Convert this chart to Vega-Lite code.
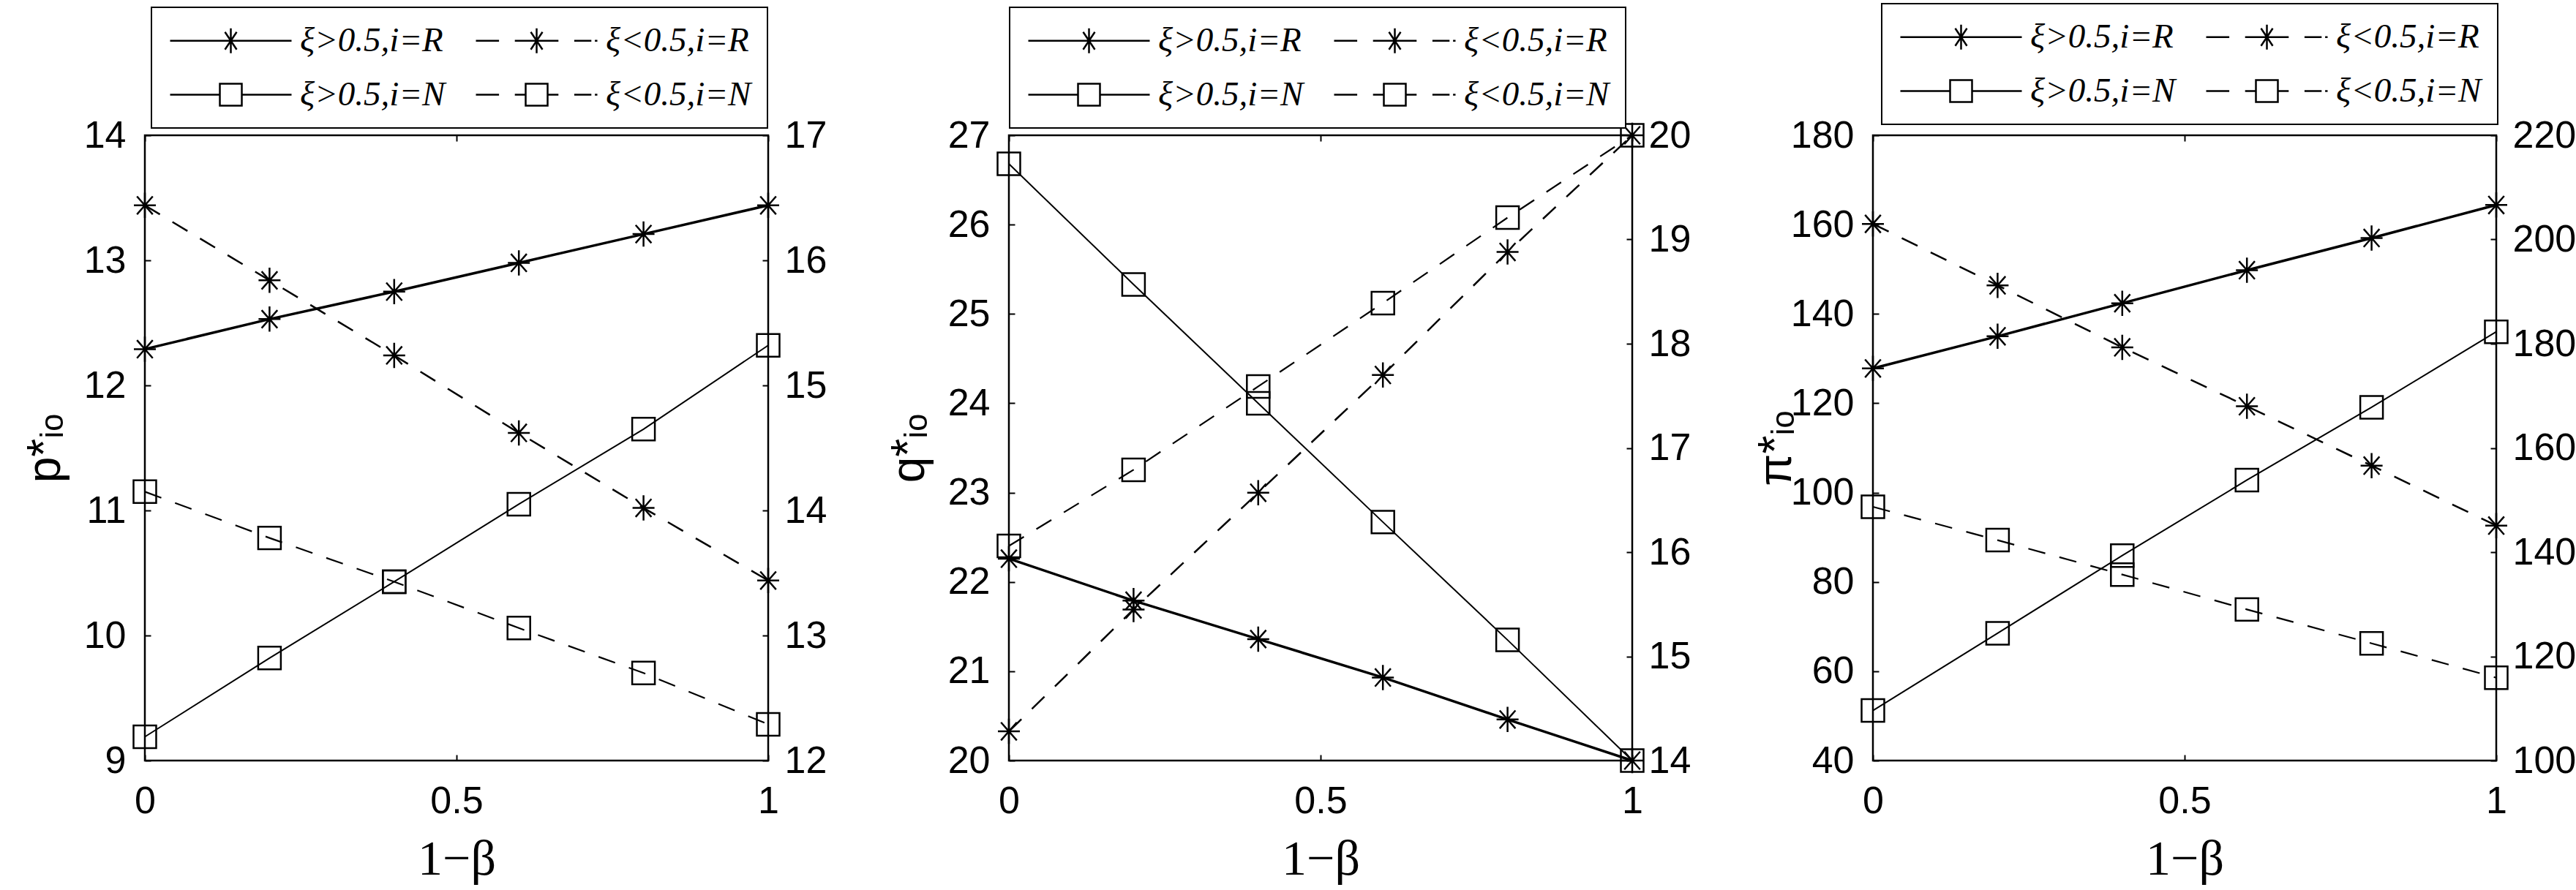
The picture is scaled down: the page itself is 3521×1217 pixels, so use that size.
{
  "$schema": "https://vega.github.io/schema/vega-lite/v6.json",
  "background": "white",
  "padding": {"left": 28, "top": 2, "right": 0, "bottom": 0},
  "datasets": {
    "d": [
      {"p": 1, "s": "ξ>0.5,i=R", "x": 0, "y": 12.29}, {"p": 1, "s": "ξ>0.5,i=R", "x": 0.2, "y": 12.53}, {"p": 1, "s": "ξ>0.5,i=R", "x": 0.4, "y": 12.75}, {"p": 1, "s": "ξ>0.5,i=R", "x": 0.6, "y": 12.98}, {"p": 1, "s": "ξ>0.5,i=R", "x": 0.8, "y": 13.21}, {"p": 1, "s": "ξ>0.5,i=R", "x": 1, "y": 13.44},
      {"p": 1, "s": "ξ<0.5,i=R", "x": 0, "y": 16.44}, {"p": 1, "s": "ξ<0.5,i=R", "x": 0.2, "y": 15.84}, {"p": 1, "s": "ξ<0.5,i=R", "x": 0.4, "y": 15.24}, {"p": 1, "s": "ξ<0.5,i=R", "x": 0.6, "y": 14.62}, {"p": 1, "s": "ξ<0.5,i=R", "x": 0.8, "y": 14.02}, {"p": 1, "s": "ξ<0.5,i=R", "x": 1, "y": 13.44},
      {"p": 1, "s": "ξ>0.5,i=N", "x": 0, "y": 9.19}, {"p": 1, "s": "ξ>0.5,i=N", "x": 0.2, "y": 9.82}, {"p": 1, "s": "ξ>0.5,i=N", "x": 0.4, "y": 10.43}, {"p": 1, "s": "ξ>0.5,i=N", "x": 0.6, "y": 11.05}, {"p": 1, "s": "ξ>0.5,i=N", "x": 0.8, "y": 11.65}, {"p": 1, "s": "ξ>0.5,i=N", "x": 1, "y": 12.32},
      {"p": 1, "s": "ξ<0.5,i=N", "x": 0, "y": 14.15}, {"p": 1, "s": "ξ<0.5,i=N", "x": 0.2, "y": 13.78}, {"p": 1, "s": "ξ<0.5,i=N", "x": 0.4, "y": 13.43}, {"p": 1, "s": "ξ<0.5,i=N", "x": 0.6, "y": 13.06}, {"p": 1, "s": "ξ<0.5,i=N", "x": 0.8, "y": 12.70}, {"p": 1, "s": "ξ<0.5,i=N", "x": 1, "y": 12.29},
      {"p": 2, "s": "ξ>0.5,i=R", "x": 0, "y": 22.26}, {"p": 2, "s": "ξ>0.5,i=R", "x": 0.2, "y": 21.79}, {"p": 2, "s": "ξ>0.5,i=R", "x": 0.4, "y": 21.36}, {"p": 2, "s": "ξ>0.5,i=R", "x": 0.6, "y": 20.93}, {"p": 2, "s": "ξ>0.5,i=R", "x": 0.8, "y": 20.46}, {"p": 2, "s": "ξ>0.5,i=R", "x": 1, "y": 20.0},
      {"p": 2, "s": "ξ<0.5,i=R", "x": 0, "y": 14.28}, {"p": 2, "s": "ξ<0.5,i=R", "x": 0.2, "y": 15.45}, {"p": 2, "s": "ξ<0.5,i=R", "x": 0.4, "y": 16.57}, {"p": 2, "s": "ξ<0.5,i=R", "x": 0.6, "y": 17.70}, {"p": 2, "s": "ξ<0.5,i=R", "x": 0.8, "y": 18.88}, {"p": 2, "s": "ξ<0.5,i=R", "x": 1, "y": 20.0},
      {"p": 2, "s": "ξ>0.5,i=N", "x": 0, "y": 26.68}, {"p": 2, "s": "ξ>0.5,i=N", "x": 0.2, "y": 25.33}, {"p": 2, "s": "ξ>0.5,i=N", "x": 0.4, "y": 24.0}, {"p": 2, "s": "ξ>0.5,i=N", "x": 0.6, "y": 22.67}, {"p": 2, "s": "ξ>0.5,i=N", "x": 0.8, "y": 21.35}, {"p": 2, "s": "ξ>0.5,i=N", "x": 1, "y": 20.0},
      {"p": 2, "s": "ξ<0.5,i=N", "x": 0, "y": 16.06}, {"p": 2, "s": "ξ<0.5,i=N", "x": 0.2, "y": 16.79}, {"p": 2, "s": "ξ<0.5,i=N", "x": 0.4, "y": 17.59}, {"p": 2, "s": "ξ<0.5,i=N", "x": 0.6, "y": 18.39}, {"p": 2, "s": "ξ<0.5,i=N", "x": 0.8, "y": 19.21}, {"p": 2, "s": "ξ<0.5,i=N", "x": 1, "y": 20.0},
      {"p": 3, "s": "ξ>0.5,i=R", "x": 0, "y": 127.8}, {"p": 3, "s": "ξ>0.5,i=R", "x": 0.2, "y": 135.0}, {"p": 3, "s": "ξ>0.5,i=R", "x": 0.4, "y": 142.4}, {"p": 3, "s": "ξ>0.5,i=R", "x": 0.6, "y": 149.8}, {"p": 3, "s": "ξ>0.5,i=R", "x": 0.8, "y": 157.0}, {"p": 3, "s": "ξ>0.5,i=R", "x": 1, "y": 164.4},
      {"p": 3, "s": "ξ<0.5,i=R", "x": 0, "y": 203.0}, {"p": 3, "s": "ξ<0.5,i=R", "x": 0.2, "y": 191.2}, {"p": 3, "s": "ξ<0.5,i=R", "x": 0.4, "y": 179.3}, {"p": 3, "s": "ξ<0.5,i=R", "x": 0.6, "y": 168.0}, {"p": 3, "s": "ξ<0.5,i=R", "x": 0.8, "y": 156.6}, {"p": 3, "s": "ξ<0.5,i=R", "x": 1, "y": 145.1},
      {"p": 3, "s": "ξ>0.5,i=N", "x": 0, "y": 51.2}, {"p": 3, "s": "ξ>0.5,i=N", "x": 0.2, "y": 68.5}, {"p": 3, "s": "ξ>0.5,i=N", "x": 0.4, "y": 85.9}, {"p": 3, "s": "ξ>0.5,i=N", "x": 0.6, "y": 102.8}, {"p": 3, "s": "ξ>0.5,i=N", "x": 0.8, "y": 119.1}, {"p": 3, "s": "ξ>0.5,i=N", "x": 1, "y": 136.0},
      {"p": 3, "s": "ξ<0.5,i=N", "x": 0, "y": 148.7}, {"p": 3, "s": "ξ<0.5,i=N", "x": 0.2, "y": 142.3}, {"p": 3, "s": "ξ<0.5,i=N", "x": 0.4, "y": 135.7}, {"p": 3, "s": "ξ<0.5,i=N", "x": 0.6, "y": 129.0}, {"p": 3, "s": "ξ<0.5,i=N", "x": 0.8, "y": 122.5}, {"p": 3, "s": "ξ<0.5,i=N", "x": 1, "y": 115.9}
    ]
  },
  "spacing": 329,
  "bounds": "flush",
  "resolve": {"scale": {"shape": "independent"}, "legend": {"shape": "independent"}},
  "hconcat": [
    {
      "width": 852, "height": 855,
      "data": {"name": "d"},
      "transform": [{"filter": "datum.p == 1"}],
      "layer": [
        {
          "encoding": {
            "x": {"field": "x", "type": "quantitative", "scale": {"domain": [0, 1], "nice": false}, "axis": {"orient": "bottom", "values": [0, 0.5, 1], "format": "~g", "labelPadding": 38, "title": "1−β", "titleFont": "Liberation Serif", "titleFontSize": 68, "titlePadding": 20}},
            "y": {"field": "y", "type": "quantitative", "scale": {"domain": [9, 14], "nice": false, "zero": false}, "axis": {"orient": "left", "values": [9, 10, 11, 12, 13, 14], "labelPadding": 34, "title": "p*ᵢₒ", "titleFont": "Liberation Sans", "titleFontSize": 64, "titlePadding": 20}}
          },
          "layer": [
            {"transform": [{"filter": "datum.s == 'ξ>0.5,i=R'"}], "mark": {"type": "line", "color": "black", "strokeWidth": 3.5}},
            {"transform": [{"filter": "datum.s == 'ξ>0.5,i=N'"}], "mark": {"type": "line", "color": "black", "strokeWidth": 2}},
            {"transform": [{"filter": "datum.s == 'ξ>0.5,i=R'"}], "mark": {"type": "point", "shape": "M-1,0H1M0,-1.15V1.15M-0.72,-0.82L0.72,0.82M-0.72,0.82L0.72,-0.82", "size": 900, "filled": false, "color": "black", "opacity": 1, "strokeWidth": 2.5}},
            {"transform": [{"filter": "datum.s == 'ξ>0.5,i=N'"}], "mark": {"type": "point", "shape": "square", "size": 960, "filled": false, "color": "black", "opacity": 1, "strokeWidth": 2.5}},
            {"transform": [{"filter": "datum.s == 'ξ>0.5,i=R' || datum.s == 'ξ>0.5,i=N'"}], "mark": {"type": "point", "filled": false, "color": "black", "opacity": 0, "strokeWidth": 2.5},
              "encoding": {"shape": {"field": "s", "type": "nominal",
                "scale": {"domain": ["ξ>0.5,i=R", "ξ>0.5,i=N", "ξ<0.5,i=R", "ξ<0.5,i=N"],
                  "range": ["M-1,0H7.3M2.575,0H3.725M3.15,-0.85V0.85M2.75,-0.6L3.55,0.6M2.75,0.6L3.55,-0.6",
                            "M-1,0H2.4M3.9,0H7.3M2.4,-0.75H3.9V0.75H2.4Z",
                            "M-1,0H0.58M1.66,0H4.64M5.72,0H6.89M7.13,0H7.3M3.15,-0.85V0.85M2.75,-0.6L3.55,0.6M2.75,0.6L3.55,-0.6",
                            "M-1,0H0.58M1.66,0H2.4M3.9,0H4.64M5.72,0H6.89M7.13,0H7.3M2.4,-0.75H3.9V0.75H2.4Z"]},
                "legend": {"orient": "none", "legendX": 9, "legendY": -175, "columns": 2, "title": null, "padding": 22, "rowPadding": 26, "columnPadding": 36, "labelOffset": 134, "labelFont": "Liberation Serif", "labelFontStyle": "italic", "labelFontSize": 47, "labelColor": "black", "labelLimit": 500, "symbolSize": 1600, "symbolStrokeWidth": 2.5, "symbolStrokeColor": "black", "symbolOpacity": 1, "strokeColor": "black", "fillColor": "white"}}}}
          ]
        },
        {
          "encoding": {
            "x": {"field": "x", "type": "quantitative", "scale": {"domain": [0, 1], "nice": false}, "axis": {"orient": "top", "values": [0, 0.5, 1], "labels": false, "title": null}},
            "y": {"field": "y", "type": "quantitative", "scale": {"domain": [12, 17], "nice": false, "zero": false}, "axis": {"orient": "right", "values": [12, 13, 14, 15, 16, 17], "labelPadding": 30, "title": null}}
          },
          "layer": [
            {"transform": [{"filter": "datum.s == 'ξ<0.5,i=R'"}], "mark": {"type": "line", "color": "black", "strokeWidth": 2.5, "strokeDash": [24, 20]}},
            {"transform": [{"filter": "datum.s == 'ξ<0.5,i=N'"}], "mark": {"type": "line", "color": "black", "strokeWidth": 2.2, "strokeDash": [24, 20]}},
            {"transform": [{"filter": "datum.s == 'ξ<0.5,i=R'"}], "mark": {"type": "point", "shape": "M-1,0H1M0,-1.15V1.15M-0.72,-0.82L0.72,0.82M-0.72,0.82L0.72,-0.82", "size": 900, "filled": false, "color": "black", "opacity": 1, "strokeWidth": 2.5}},
            {"transform": [{"filter": "datum.s == 'ξ<0.5,i=N'"}], "mark": {"type": "point", "shape": "square", "size": 960, "filled": false, "color": "black", "opacity": 1, "strokeWidth": 2.5}}
          ]
        }
      ],
      "resolve": {"scale": {"y": "independent"}}
    },
    {
      "width": 852, "height": 855,
      "data": {"name": "d"},
      "transform": [{"filter": "datum.p == 2"}],
      "layer": [
        {
          "encoding": {
            "x": {"field": "x", "type": "quantitative", "scale": {"domain": [0, 1], "nice": false}, "axis": {"orient": "bottom", "values": [0, 0.5, 1], "format": "~g", "labelPadding": 38, "title": "1−β", "titleFont": "Liberation Serif", "titleFontSize": 68, "titlePadding": 20}},
            "y": {"field": "y", "type": "quantitative", "scale": {"domain": [20, 27], "nice": false, "zero": false}, "axis": {"orient": "left", "values": [20, 21, 22, 23, 24, 25, 26, 27], "labelPadding": 34, "title": "q*ᵢₒ", "titleFont": "Liberation Sans", "titleFontSize": 64, "titlePadding": 20}}
          },
          "layer": [
            {"transform": [{"filter": "datum.s == 'ξ>0.5,i=R'"}], "mark": {"type": "line", "color": "black", "strokeWidth": 3.5}},
            {"transform": [{"filter": "datum.s == 'ξ>0.5,i=N'"}], "mark": {"type": "line", "color": "black", "strokeWidth": 2}},
            {"transform": [{"filter": "datum.s == 'ξ>0.5,i=R'"}], "mark": {"type": "point", "shape": "M-1,0H1M0,-1.15V1.15M-0.72,-0.82L0.72,0.82M-0.72,0.82L0.72,-0.82", "size": 900, "filled": false, "color": "black", "opacity": 1, "strokeWidth": 2.5}},
            {"transform": [{"filter": "datum.s == 'ξ>0.5,i=N'"}], "mark": {"type": "point", "shape": "square", "size": 960, "filled": false, "color": "black", "opacity": 1, "strokeWidth": 2.5}},
            {"transform": [{"filter": "datum.s == 'ξ>0.5,i=R' || datum.s == 'ξ>0.5,i=N'"}], "mark": {"type": "point", "filled": false, "color": "black", "opacity": 0, "strokeWidth": 2.5},
              "encoding": {"shape": {"field": "s", "type": "nominal",
                "scale": {"domain": ["ξ>0.5,i=R", "ξ>0.5,i=N", "ξ<0.5,i=R", "ξ<0.5,i=N"],
                  "range": ["M-1,0H7.3M2.575,0H3.725M3.15,-0.85V0.85M2.75,-0.6L3.55,0.6M2.75,0.6L3.55,-0.6",
                            "M-1,0H2.4M3.9,0H7.3M2.4,-0.75H3.9V0.75H2.4Z",
                            "M-1,0H0.58M1.66,0H4.64M5.72,0H6.89M7.13,0H7.3M3.15,-0.85V0.85M2.75,-0.6L3.55,0.6M2.75,0.6L3.55,-0.6",
                            "M-1,0H0.58M1.66,0H2.4M3.9,0H4.64M5.72,0H6.89M7.13,0H7.3M2.4,-0.75H3.9V0.75H2.4Z"]},
                "legend": {"orient": "none", "legendX": 1, "legendY": -175, "columns": 2, "title": null, "padding": 22, "rowPadding": 26, "columnPadding": 36, "labelOffset": 134, "labelFont": "Liberation Serif", "labelFontStyle": "italic", "labelFontSize": 47, "labelColor": "black", "labelLimit": 500, "symbolSize": 1600, "symbolStrokeWidth": 2.5, "symbolStrokeColor": "black", "symbolOpacity": 1, "strokeColor": "black", "fillColor": "white"}}}}
          ]
        },
        {
          "encoding": {
            "x": {"field": "x", "type": "quantitative", "scale": {"domain": [0, 1], "nice": false}, "axis": {"orient": "top", "values": [0, 0.5, 1], "labels": false, "title": null}},
            "y": {"field": "y", "type": "quantitative", "scale": {"domain": [14, 20], "nice": false, "zero": false}, "axis": {"orient": "right", "values": [14, 15, 16, 17, 18, 19, 20], "labelPadding": 30, "title": null}}
          },
          "layer": [
            {"transform": [{"filter": "datum.s == 'ξ<0.5,i=R'"}], "mark": {"type": "line", "color": "black", "strokeWidth": 2.5, "strokeDash": [24, 20]}},
            {"transform": [{"filter": "datum.s == 'ξ<0.5,i=N'"}], "mark": {"type": "line", "color": "black", "strokeWidth": 2.2, "strokeDash": [24, 20]}},
            {"transform": [{"filter": "datum.s == 'ξ<0.5,i=R'"}], "mark": {"type": "point", "shape": "M-1,0H1M0,-1.15V1.15M-0.72,-0.82L0.72,0.82M-0.72,0.82L0.72,-0.82", "size": 900, "filled": false, "color": "black", "opacity": 1, "strokeWidth": 2.5}},
            {"transform": [{"filter": "datum.s == 'ξ<0.5,i=N'"}], "mark": {"type": "point", "shape": "square", "size": 960, "filled": false, "color": "black", "opacity": 1, "strokeWidth": 2.5}}
          ]
        }
      ],
      "resolve": {"scale": {"y": "independent"}}
    },
    {
      "width": 852, "height": 855,
      "data": {"name": "d"},
      "transform": [{"filter": "datum.p == 3"}],
      "layer": [
        {
          "encoding": {
            "x": {"field": "x", "type": "quantitative", "scale": {"domain": [0, 1], "nice": false}, "axis": {"orient": "bottom", "values": [0, 0.5, 1], "format": "~g", "labelPadding": 38, "title": "1−β", "titleFont": "Liberation Serif", "titleFontSize": 68, "titlePadding": 20}},
            "y": {"field": "y", "type": "quantitative", "scale": {"domain": [40, 180], "nice": false, "zero": false}, "axis": {"orient": "left", "values": [40, 60, 80, 100, 120, 140, 160, 180], "labelPadding": 34, "title": "π*ᵢₒ", "titleFont": "Liberation Sans", "titleFontSize": 64, "titlePadding": -13}}
          },
          "layer": [
            {"transform": [{"filter": "datum.s == 'ξ>0.5,i=R'"}], "mark": {"type": "line", "color": "black", "strokeWidth": 3.5}},
            {"transform": [{"filter": "datum.s == 'ξ>0.5,i=N'"}], "mark": {"type": "line", "color": "black", "strokeWidth": 2}},
            {"transform": [{"filter": "datum.s == 'ξ>0.5,i=R'"}], "mark": {"type": "point", "shape": "M-1,0H1M0,-1.15V1.15M-0.72,-0.82L0.72,0.82M-0.72,0.82L0.72,-0.82", "size": 900, "filled": false, "color": "black", "opacity": 1, "strokeWidth": 2.5}},
            {"transform": [{"filter": "datum.s == 'ξ>0.5,i=N'"}], "mark": {"type": "point", "shape": "square", "size": 960, "filled": false, "color": "black", "opacity": 1, "strokeWidth": 2.5}},
            {"transform": [{"filter": "datum.s == 'ξ>0.5,i=R' || datum.s == 'ξ>0.5,i=N'"}], "mark": {"type": "point", "filled": false, "color": "black", "opacity": 0, "strokeWidth": 2.5},
              "encoding": {"shape": {"field": "s", "type": "nominal",
                "scale": {"domain": ["ξ>0.5,i=R", "ξ>0.5,i=N", "ξ<0.5,i=R", "ξ<0.5,i=N"],
                  "range": ["M-1,0H7.3M2.575,0H3.725M3.15,-0.85V0.85M2.75,-0.6L3.55,0.6M2.75,0.6L3.55,-0.6",
                            "M-1,0H2.4M3.9,0H7.3M2.4,-0.75H3.9V0.75H2.4Z",
                            "M-1,0H0.58M1.66,0H4.64M5.72,0H6.89M7.13,0H7.3M3.15,-0.85V0.85M2.75,-0.6L3.55,0.6M2.75,0.6L3.55,-0.6",
                            "M-1,0H0.58M1.66,0H2.4M3.9,0H4.64M5.72,0H6.89M7.13,0H7.3M2.4,-0.75H3.9V0.75H2.4Z"]},
                "legend": {"orient": "none", "legendX": 12, "legendY": -180, "columns": 2, "title": null, "padding": 22, "rowPadding": 26, "columnPadding": 36, "labelOffset": 134, "labelFont": "Liberation Serif", "labelFontStyle": "italic", "labelFontSize": 47, "labelColor": "black", "labelLimit": 500, "symbolSize": 1600, "symbolStrokeWidth": 2.5, "symbolStrokeColor": "black", "symbolOpacity": 1, "strokeColor": "black", "fillColor": "white"}}}}
          ]
        },
        {
          "encoding": {
            "x": {"field": "x", "type": "quantitative", "scale": {"domain": [0, 1], "nice": false}, "axis": {"orient": "top", "values": [0, 0.5, 1], "labels": false, "title": null}},
            "y": {"field": "y", "type": "quantitative", "scale": {"domain": [100, 220], "nice": false, "zero": false}, "axis": {"orient": "right", "values": [100, 120, 140, 160, 180, 200, 220], "labelPadding": 30, "title": null}}
          },
          "layer": [
            {"transform": [{"filter": "datum.s == 'ξ<0.5,i=R'"}], "mark": {"type": "line", "color": "black", "strokeWidth": 2.5, "strokeDash": [24, 20]}},
            {"transform": [{"filter": "datum.s == 'ξ<0.5,i=N'"}], "mark": {"type": "line", "color": "black", "strokeWidth": 2.2, "strokeDash": [24, 20]}},
            {"transform": [{"filter": "datum.s == 'ξ<0.5,i=R'"}], "mark": {"type": "point", "shape": "M-1,0H1M0,-1.15V1.15M-0.72,-0.82L0.72,0.82M-0.72,0.82L0.72,-0.82", "size": 900, "filled": false, "color": "black", "opacity": 1, "strokeWidth": 2.5}},
            {"transform": [{"filter": "datum.s == 'ξ<0.5,i=N'"}], "mark": {"type": "point", "shape": "square", "size": 960, "filled": false, "color": "black", "opacity": 1, "strokeWidth": 2.5}}
          ]
        }
      ],
      "resolve": {"scale": {"y": "independent"}}
    }
  ],
  "config": {
    "view": {"stroke": "black", "strokeWidth": 2.5},
    "axis": {"grid": false, "domain": false, "labelFont": "Liberation Sans", "labelFontSize": 52, "labelColor": "black", "tickColor": "black", "tickSize": -8, "tickWidth": 2, "labelFlush": false, "labelOverlap": false, "titleColor": "black", "titleFontWeight": "normal"},
    "legend": {"strokeWidth": 2}
  }
}
